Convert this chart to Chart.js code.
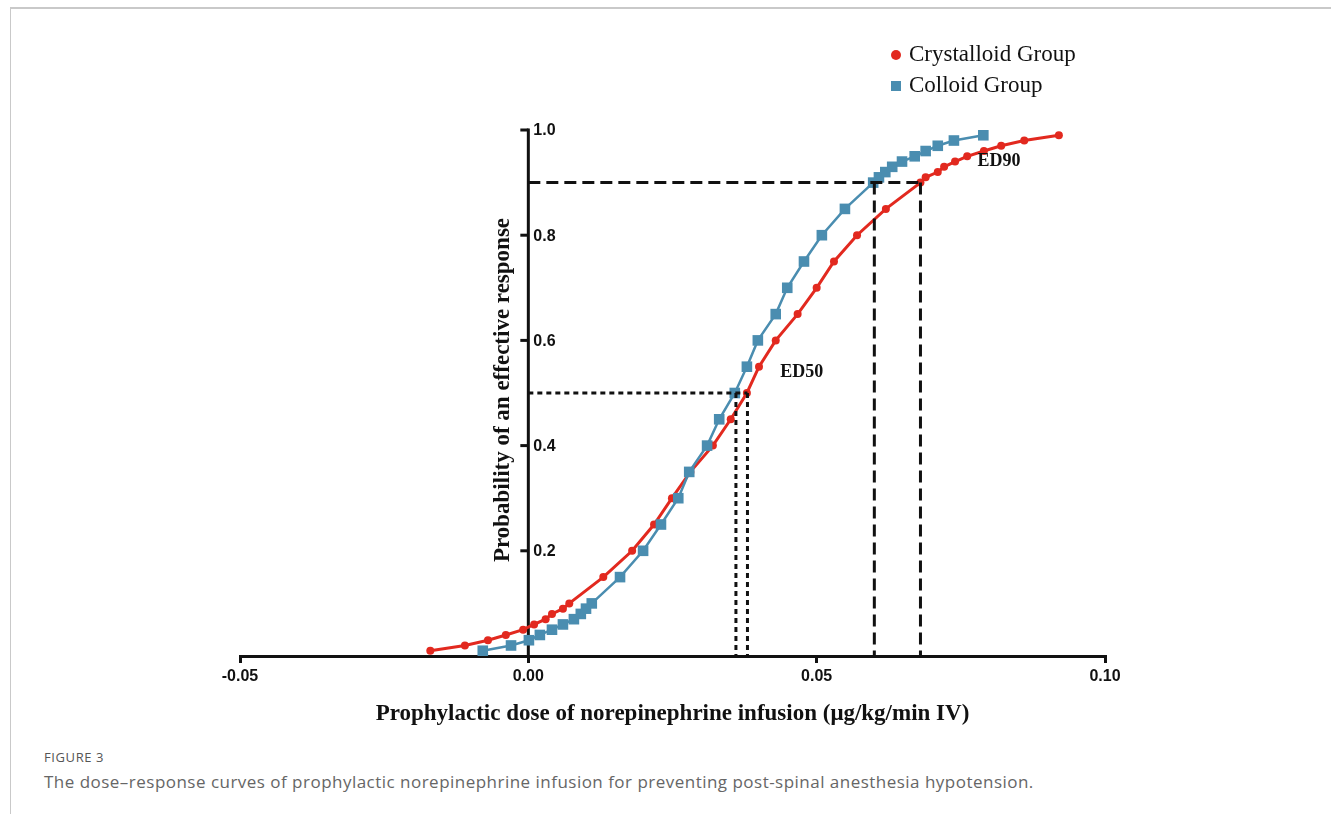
<!DOCTYPE html>
<html>
<head>
<meta charset="utf-8">
<script src="https://cdn.jsdelivr.net/npm/chart.js@4.4.1/dist/chart.umd.min.js"></script>
<style>
  html, body { margin: 0; padding: 0; background: #fff; }
  body { width: 1331px; height: 814px; position: relative; overflow: hidden; }
  .frame-top { position: absolute; left: 10px; top: 7px; right: 0; height: 2px; background: #c9c9c9; }
  .frame-left { position: absolute; left: 10px; top: 7px; bottom: 0; width: 1px; background: #c9c9c9; }
  #doseChart { position: absolute; left: 0; top: 0; }
  .fig-label { position: absolute; left: 44px; top: 748px; font: 13px 'Open Sans', sans-serif; color: #555; letter-spacing: 0.6px; }
  .caption { position: absolute; left: 44px; top: 770px; font: 17px 'Open Sans', sans-serif; color: #666; white-space: nowrap; letter-spacing: 0.48px; }
</style>
</head>
<body>
<div class="frame-top"></div>
<div class="frame-left"></div>
<canvas id="doseChart" width="1331" height="740"></canvas>
<div class="fig-label">FIGURE 3</div>
<div class="caption">The dose&#8211;response curves of prophylactic norepinephrine infusion for preventing post-spinal anesthesia hypotension.</div>
<script>
// probability levels shared by both curves
const probLevels = [
  0.01, 0.02, 0.03, 0.04, 0.05, 0.06, 0.07, 0.08, 0.09, 0.10,
  0.15, 0.20, 0.25, 0.30, 0.35, 0.40, 0.45, 0.50, 0.55, 0.60, 0.65, 0.70, 0.75, 0.80, 0.85, 0.90,
  0.91, 0.92, 0.93, 0.94, 0.95, 0.96, 0.97, 0.98, 0.99
];

const crystalloidDose = [
  -0.0170, -0.0110, -0.0070, -0.0039, -0.0009, 0.0010, 0.0030, 0.0041, 0.0060, 0.0071,
  0.0130, 0.0180, 0.0218, 0.0249, 0.0281, 0.0320, 0.0351, 0.0379, 0.0400, 0.0429, 0.0467, 0.0500, 0.0530, 0.0570, 0.0620, 0.0680,
  0.0689, 0.0710, 0.0721, 0.0740, 0.0761, 0.0790, 0.0820, 0.0860, 0.0920
];

const colloidDose = [
  -0.0079, -0.0030, 0.0001, 0.0020, 0.0041, 0.0060, 0.0079, 0.0091, 0.0100, 0.0110,
  0.0159, 0.0199, 0.0230, 0.0260, 0.0279, 0.0310, 0.0331, 0.0358, 0.0379, 0.0398, 0.0429, 0.0449, 0.0478, 0.0509, 0.0549, 0.0598,
  0.0608, 0.0619, 0.0631, 0.0648, 0.0670, 0.0689, 0.0710, 0.0738, 0.0789
];

// ED50 / ED90 estimates: [colloid, crystalloid]
const ed50Dose = [0.036, 0.038];
const ed90Dose = [0.060, 0.068];
const ed50Level = 0.5;
const ed90Level = 0.9;

const yTickValues = [0.2, 0.4, 0.6, 0.8, 1.0];
const yTickLabels = ['0.2', '0.4', '0.6', '0.8', '1.0'];

const seriesNames = ['Crystalloid Group', 'Colloid Group'];
const redColor = '#e2291f';
const blueColor = '#4a8db0';
const inkColor = '#111';

const toPoints = (doses) => doses.map((d, i) => ({ x: d, y: probLevels[i] }));

const refLine = (data, dash) => ({
  label: '',
  data,
  borderColor: inkColor,
  borderWidth: 3,
  borderDash: dash,
  pointRadius: 0,
  fill: false,
  order: 0
});

const refLines = [];
const addGuides = (doses, level, dash) => {
  refLines.push(refLine([{ x: 0, y: level }, { x: Math.max(...doses), y: level }], dash));
  doses.forEach(d => refLines.push(refLine([{ x: d, y: level }, { x: d, y: 0 }], dash)));
};
addGuides(ed90Dose, ed90Level, [12, 6]);
addGuides(ed50Dose, ed50Level, [5, 4]);

/**
 * Draws the y axis at x = 0, the legend and the ED labels.
 */
const decorPlugin = {
  id: 'decor',
  beforeDatasetsDraw(chart) {
    const { ctx, scales: { x, y } } = chart;
    const x0 = x.getPixelForValue(0);
    ctx.save();
    ctx.strokeStyle = inkColor;
    ctx.fillStyle = inkColor;
    ctx.lineWidth = 3;
    ctx.beginPath();
    ctx.moveTo(x0, y.getPixelForValue(0));
    ctx.lineTo(x0, y.getPixelForValue(1) - 1.5);
    ctx.stroke();

    ctx.font = 'bold 16px "Liberation Sans", Arial, sans-serif';
    ctx.textAlign = 'left';
    ctx.textBaseline = 'middle';
    yTickValues.forEach((v, i) => {
      const py = y.getPixelForValue(v);
      ctx.beginPath();
      ctx.moveTo(x0 - 8, py);
      ctx.lineTo(x0, py);
      ctx.stroke();
      ctx.fillText(yTickLabels[i], x0 + 5, py + 1);
    });

    ctx.translate(x0 - 25, (y.top + y.bottom) / 2 - 3);
    ctx.rotate(-Math.PI / 2);
    ctx.textAlign = 'center';
    ctx.font = 'bold 23px "Liberation Serif", "Times New Roman", serif';
    ctx.fillText('Probability of an effective response', 0, 0);
    ctx.restore();
  },
  afterDatasetsDraw(chart) {
    const { ctx, scales: { x, y } } = chart;
    ctx.save();
    ctx.fillStyle = inkColor;
    ctx.textBaseline = 'middle';
    ctx.textAlign = 'left';
    ctx.font = 'bold 18px "Liberation Serif", "Times New Roman", serif';
    ctx.fillText('ED50', x.getPixelForValue(0.0437), y.getPixelForValue(0.54));
    ctx.fillText('ED90', x.getPixelForValue(0.0779), y.getPixelForValue(0.941));

    // legend
    ctx.font = '23px "Liberation Serif", "Times New Roman", serif';
    ctx.fillStyle = redColor;
    ctx.beginPath();
    ctx.arc(896, 55, 5, 0, Math.PI * 2);
    ctx.fill();
    ctx.fillStyle = blueColor;
    ctx.fillRect(891, 81, 10, 10);
    ctx.fillStyle = inkColor;
    ctx.fillText(seriesNames[0], 909, 55);
    ctx.fillText(seriesNames[1], 909, 86);
    ctx.restore();
  }
};

new Chart(document.getElementById('doseChart'), {
  type: 'line',
  data: {
    datasets: [
      ...refLines,
      {
        label: seriesNames[1],
        data: toPoints(colloidDose),
        borderColor: blueColor,
        backgroundColor: blueColor,
        borderWidth: 2.5,
        pointStyle: 'rect',
        pointRadius: 7.5,
        pointBorderWidth: 0,
        tension: 0,
        order: 1
      },
      {
        label: seriesNames[0],
        data: toPoints(crystalloidDose),
        borderColor: redColor,
        backgroundColor: redColor,
        borderWidth: 3,
        pointStyle: 'circle',
        pointRadius: 4,
        pointBorderWidth: 0,
        tension: 0,
        order: 2
      }
    ]
  },
  options: {
    responsive: false,
    animation: false,
    devicePixelRatio: 1,
    layout: { padding: { left: 240, right: 226, top: 130, bottom: 0 } },
    scales: {
      x: {
        type: 'linear',
        min: -0.05,
        max: 0.1,
        afterFit: (scale) => { scale.height = 84; },
        border: { display: true, color: inkColor, width: 3 },
        grid: { drawOnChartArea: false, drawTicks: true, tickLength: 7, color: inkColor, lineWidth: 3 },
        ticks: {
          stepSize: 0.05,
          autoSkip: false,
          maxRotation: 0,
          padding: 4,
          color: inkColor,
          font: { family: '"Liberation Sans", Arial, sans-serif', weight: 'bold', size: 16 },
          callback: (v) => v.toFixed(2)
        },
        title: {
          display: true,
          text: 'Prophylactic dose of norepinephrine infusion (\u03bcg/kg/min IV)',
          color: inkColor,
          font: { family: '"Liberation Serif", "Times New Roman", serif', weight: 'bold', size: 23 },
          padding: { top: 0, bottom: 12 }
        }
      },
      y: { type: 'linear', min: 0, max: 1, display: false }
    },
    plugins: {
      legend: { display: false },
      tooltip: { enabled: false }
    }
  },
  plugins: [decorPlugin]
});
</script>
</body>
</html>
